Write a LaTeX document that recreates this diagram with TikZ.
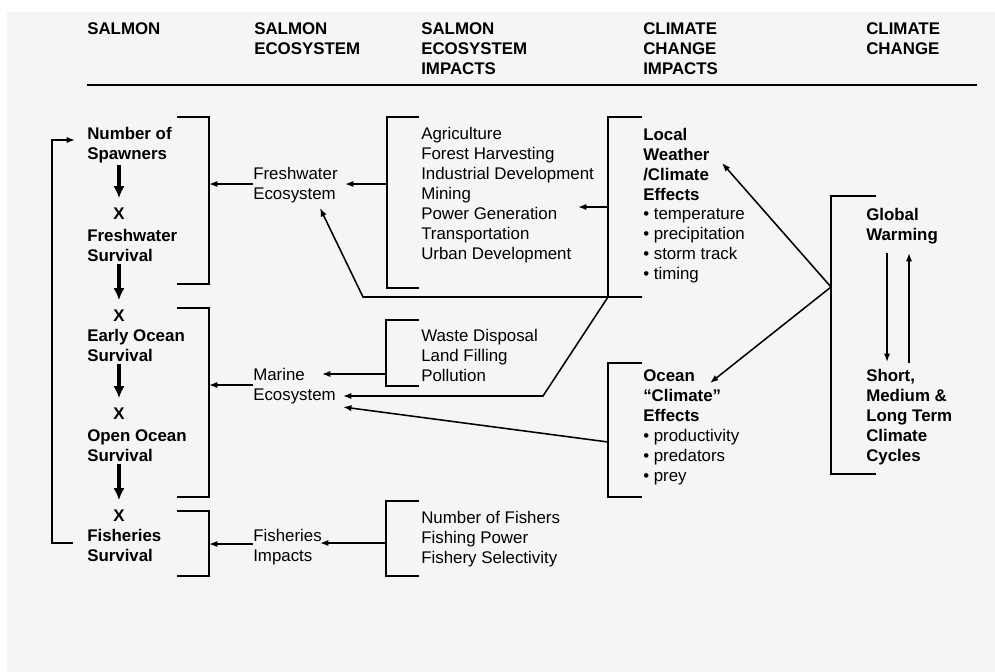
\documentclass[tikz,border=0pt]{standalone}
\usepackage{fontspec}
\setmainfont{Liberation Sans}
\usetikzlibrary{arrows.meta}

\begin{document}
\begin{tikzpicture}[x=0.025cm,y=-0.025cm,
  bracket/.style={line width=1.3pt},
  link/.style={line width=1.1pt,-{Latex[length=6pt,width=4.5pt]}},
  flow/.style={line width=2.3pt,-{Latex[length=8.5pt,width=8pt]},shorten <=1.5pt,shorten >=7pt},
  txt/.style={anchor=north west,inner sep=0pt,align=left,font=\fontsize{12}{14.2}\selectfont},
  hdr/.style={txt,font=\fontsize{12}{14.2}\selectfont\bfseries}]
% the page and the scanned paper
\useasboundingbox (0,0) rectangle (995,672);
\fill[white] (0,0) rectangle (995,672);
\fill[black!4] (7,12) rectangle (995,672);
% the column headings
\node[hdr] (hsal) at (87,22) {SALMON};
\node[hdr] (heco) at (254,22) {SALMON\\ECOSYSTEM};
\node[hdr] (himp) at (421,22) {SALMON\\ECOSYSTEM\\IMPACTS};
\node[hdr] (hcci) at (643,22) {CLIMATE\\CHANGE\\IMPACTS};
\node[hdr] (hcc) at (866,22) {CLIMATE\\CHANGE};
\draw[line width=1.4pt] (87,85) -- (977,85);
% the salmon column
\node[hdr] (spawn) at (87,127) {Number of\\Spawners};
\node[hdr,anchor=center] (x1) at (119,214) {X};
\node[hdr] (fwsurv) at (87,229) {Freshwater\\Survival};
\node[hdr,anchor=center] (x2) at (119,316) {X};
\node[hdr] (eosurv) at (87,329) {Early Ocean\\Survival};
\node[hdr,anchor=center] (x3) at (119,414) {X};
\node[hdr] (oosurv) at (87,429) {Open Ocean\\Survival};
\node[hdr,anchor=center] (x4) at (119,516) {X};
\node[hdr] (fisurv) at (87,529) {Fisheries\\Survival};
\draw[flow] (spawn.south -| x1) -- (x1.north);
\draw[flow] (fwsurv.south -| x2) -- (x2.north);
\draw[flow] (eosurv.south -| x3) -- (x3.north);
\draw[flow] (oosurv.south -| x4) -- (x4.north);
% the loop back to the spawners
\coordinate (loopb) at (73,543);
\coordinate (loopt) at (75,140);
\draw[link] (loopb) -- ++(-21,0) |- (loopt);
% the salmon brackets
\draw[bracket] (177,117) -| (209,284) -- (177,284);
\draw[bracket] (177,308) -| (209,497) -- (177,497);
\draw[bracket] (177,511) -| (209,576) -- (177,576);
\coordinate (sb1) at (209,184);
\coordinate (sb2) at (209,385);
\coordinate (sb3) at (209,544);
% the ecosystem column
\node[txt] (fweco) at (253,167) {Freshwater\\Ecosystem};
\node[txt] (maeco) at (253,368) {Marine\\Ecosystem};
\node[txt] (fiimp) at (253,529) {Fisheries\\Impacts};
\draw[link] (fweco.west |- sb1) -- (sb1);
\draw[link] (maeco.west |- sb2) -- (sb2);
\draw[link] (fiimp.west |- sb3) -- (sb3);
% the impacts column
\node[txt] (human) at (421,127) {Agriculture\\Forest Harvesting\\Industrial Development\\Mining\\Power Generation\\Transportation\\Urban Development};
\node[txt] (waste) at (421,329) {Waste Disposal\\Land Filling\\Pollution};
\node[txt] (fishers) at (421,511) {Number of Fishers\\Fishing Power\\Fishery Selectivity};
\draw[bracket] (419,117) -| (387,288) -- (419,288);
\draw[bracket] (419,320) -| (386,386) -- (419,386);
\draw[bracket] (419,501) -| (386,576) -- (419,576);
\coordinate (ib1) at (387,184);
\coordinate (ib2) at (386,374);
\coordinate (ib3) at (386,543);
\coordinate (fwin) at (345,184);
\coordinate (main) at (322,374);
\coordinate (fiin) at (320,543);
\draw[link] (ib1) -- (fwin);
\draw[link] (ib2) -- (main);
\draw[link] (ib3) -- (fiin);
% the climate change impacts column
\node[hdr] (local) at (643,128) {Local\\Weather\\/Climate\\Effects};
\node[txt,anchor=north west] (locl) at (643,208) {\textbullet\ temperature\\\textbullet\ precipitation\\\textbullet\ storm track\\\textbullet\ timing};
\node[hdr] (ocean) at (643,369) {Ocean\\“Climate”\\Effects};
\node[txt,anchor=north west] (ocnl) at (643,429) {\textbullet\ productivity\\\textbullet\ predators\\\textbullet\ prey};
\draw[bracket] (642,117) -| (608,297) -- (642,297);
\draw[bracket] (642,363) -| (608,497) -- (642,497);
\coordinate (lb) at (608,207);
\coordinate (pgin) at (578,207);
\draw[link] (lb) -- (pgin);
% the local weather links to both ecosystems
\coordinate (lbot) at (642,297);
\coordinate (lcor) at (608,297);
\coordinate (fwlow) at (320,208);
\coordinate (malow) at (343,396);
\coordinate (ob) at (608,442);
\coordinate (maob) at (343,407);
\draw[link] (lbot) -- (363,297) -- (fwlow);
\draw[link] (lcor) -- (543,396) -- (malow);
\draw[link] (ob) -- (maob);
% the climate change column
\node[hdr] (gwarm) at (866,208) {Global\\Warming};
\node[hdr] (cycles) at (866,369) {Short,\\Medium \&\\Long Term\\Climate\\Cycles};
\draw[bracket] (876,196) -| (831,474) -- (876,474);
\draw[link] (887,253) -- (887,362);
\draw[link] (909,363) -- (909,253);
\coordinate (gw) at (831,287);
\coordinate (lwin) at (722,163);
\coordinate (ocin) at (710,383);
\draw[link] (gw) -- (lwin);
\draw[link] (gw) -- (ocin);
\end{tikzpicture}
\end{document}
